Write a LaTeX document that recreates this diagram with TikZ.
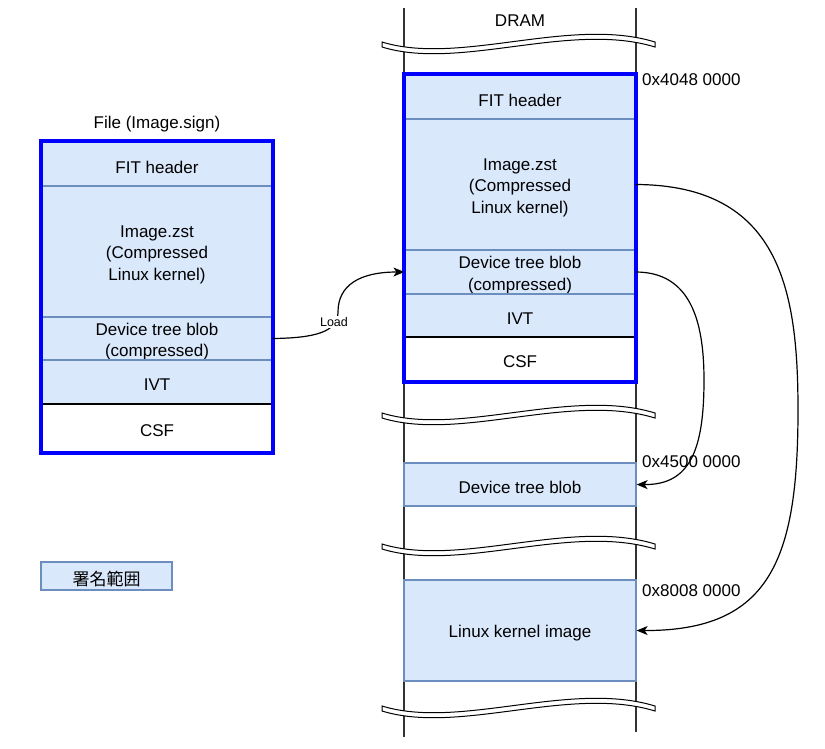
\documentclass[tikz,border=0pt]{standalone}
\usepackage{fontspec}
\setmainfont{Liberation Sans}
\newfontfamily\cjk{Noto Sans CJK JP}
\usetikzlibrary{arrows.meta}
\definecolor{rowfill}{HTML}{DAE8FC}
\definecolor{rowline}{HTML}{6C8EBF}
\definecolor{sigblue}{HTML}{0000FF}
\definecolor{vline}{HTML}{333333}
\tikzset{
  x=1pt, y=-1pt,
  every node/.style={font=\fontsize{17}{21.5}\selectfont, align=center, inner sep=0pt},
  row/.style={draw=rowline, fill=rowfill, line width=1.2pt, minimum width=230pt, rectangle},
  csfrow/.style={draw=black, fill=white, line width=1.2pt, minimum width=230pt, rectangle},
  txt/.style={label={[yshift=-3pt]center:{#1}}},
  sigborder/.style={draw=sigblue, line width=4pt},
  conn/.style={draw=black, line width=1.2pt, -{Stealth[length=11pt,width=9pt,inset=3pt]}},
  addr/.style={anchor=west},
  lbl/.style={font=\fontsize{12.5}{14}\selectfont, fill=white, inner sep=1pt},
  brk/.pic={
    \draw[fill=white, line width=1pt, line join=miter]
      (382,-2) .. controls (460,22) and (570,-28) .. (655,-2)
      -- (655,3) .. controls (570,-23) and (460,27) .. (382,3) -- cycle;
  }
}
\begin{document}
\begin{tikzpicture}
\useasboundingbox (0,0) rectangle (825,748);
% DRAM vertical lines
\draw[vline, line width=1.3pt] (404,8) -- (404,737);
\draw[vline, line width=1.3pt] (636,8) -- (636,732);
\node (dram) at (520,21) {DRAM};

% File box
\node (ftitle) at (157,124.5) {File (Image.sign)};
\node[row, minimum height=44pt, txt={FIT header}] (lfit) at (157,164) {};
\node[row, minimum height=131pt, txt={Image.zst\\(Compressed\\Linux kernel)}] (limg) at (157,251.5) {};
\node[row, minimum height=43pt, txt={Device tree blob\\(compressed)}] (ldtb) at (157,338.5) {};
\node[row, minimum height=44pt, txt={IVT}] (livt) at (157,382) {};
\node[csfrow, minimum height=48pt, txt={CSF}] (lcsf) at (157,428) {};
\draw[sigborder] (lfit.north west) rectangle (lcsf.south east);

% DRAM image box
\node[row, minimum height=44pt, txt={FIT header}] (rfit) at (520,97) {};
\node[row, minimum height=131pt, txt={Image.zst\\(Compressed\\Linux kernel)}] (rimg) at (520,184.5) {};
\node[row, minimum height=44pt, txt={Device tree blob\\(compressed)}] (rdtb) at (520,272) {};
\node[row, minimum height=43pt, txt={IVT}] (rivt) at (520,315.5) {};
\node[csfrow, minimum height=44pt, txt={CSF}] (rcsf) at (520,359) {};
\draw[sigborder] (rfit.north west) rectangle (rcsf.south east);

% DRAM other regions
\node[row, minimum width=232pt, minimum height=43pt, txt={Device tree blob}] (ddtb) at (520,484.5) {};
\node[row, minimum width=232pt, minimum height=101pt, txt={Linux kernel image}] (dker) at (520,630.5) {};

% addresses
\node[addr] (a1) at (642,79.5) {0x4048 0000};
\node[addr] (a2) at (642,461.5) {0x4500 0000};
\node[addr] (a3) at (642,590.5) {0x8008 0000};

% breaks
\pic at (0,44) {brk};
\pic at (0,415) {brk};
\pic at (0,546) {brk};
\pic at (0,708) {brk};

% legend
\node[row, minimum width=131pt, minimum height=28pt, txt={\cjk 署名範囲}] (legend) at (106.5,576) {};

% connectors
\draw[conn] (ldtb.east) .. controls (315,338) and (338,332) .. (338,312)
  .. controls (338,285) and (360,272) .. (rdtb.west);
\node[lbl] (loadlbl) at (334,322) {Load};
\draw[conn] (rimg.east) .. controls (780,185) and (798,290) .. (798,410)
  .. controls (798,560) and (770,631) .. (dker.east);
\draw[conn] (rdtb.east) .. controls (690,272) and (704,320) .. (704,380)
  .. controls (704,450) and (690,485) .. (ddtb.east);
\end{tikzpicture}
\end{document}
